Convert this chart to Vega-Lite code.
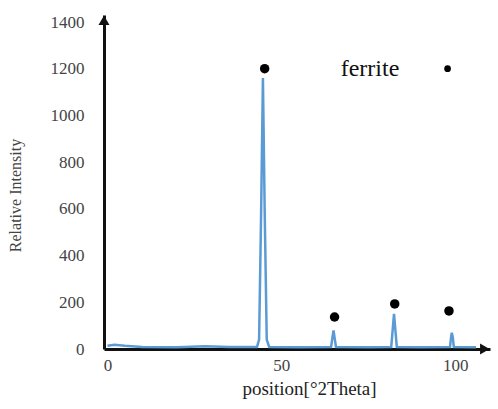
{
  "$schema": "https://vega.github.io/schema/vega-lite/v6.json",
  "autosize": "none",
  "width": 386,
  "height": 334,
  "padding": {"left": 104, "top": 15, "right": 8, "bottom": 60},
  "background": "white",
  "config": {
    "view": {"stroke": null},
    "font": "Liberation Serif"
  },
  "datasets": {
    "spectrum": [
      {"pos": 0, "intensity": 14}, {"pos": 2, "intensity": 18}, {"pos": 5, "intensity": 14},
      {"pos": 10, "intensity": 9}, {"pos": 20, "intensity": 8}, {"pos": 28, "intensity": 12},
      {"pos": 35, "intensity": 9}, {"pos": 43, "intensity": 9}, {"pos": 43.6, "intensity": 40},
      {"pos": 44.2, "intensity": 600}, {"pos": 44.7, "intensity": 1160}, {"pos": 45.2, "intensity": 600},
      {"pos": 45.8, "intensity": 40}, {"pos": 46.5, "intensity": 9}, {"pos": 55, "intensity": 8},
      {"pos": 64.3, "intensity": 9}, {"pos": 64.7, "intensity": 50}, {"pos": 65.0, "intensity": 80},
      {"pos": 65.3, "intensity": 50}, {"pos": 65.7, "intensity": 9}, {"pos": 75, "intensity": 8},
      {"pos": 81.6, "intensity": 9}, {"pos": 82.0, "intensity": 80}, {"pos": 82.4, "intensity": 150},
      {"pos": 82.8, "intensity": 80}, {"pos": 83.2, "intensity": 9}, {"pos": 90, "intensity": 8},
      {"pos": 98.5, "intensity": 9}, {"pos": 98.8, "intensity": 50}, {"pos": 99.0, "intensity": 70},
      {"pos": 99.3, "intensity": 50}, {"pos": 99.6, "intensity": 9}, {"pos": 106, "intensity": 8}
    ],
    "markers": [
      {"pos": 45.2, "intensity": 1200},
      {"pos": 65.3, "intensity": 137},
      {"pos": 82.6, "intensity": 193},
      {"pos": 98.2, "intensity": 163}
    ],
    "arrows": [
      {"pos": -1, "intensity": 1408, "shape": "triangle-up"},
      {"pos": 108.5, "intensity": 0, "shape": "triangle-right"}
    ],
    "legend": [
      {"pos": 75.5, "intensity": 1200, "label": "ferrite"}
    ],
    "legendDot": [
      {"pos": 97.8, "intensity": 1200}
    ]
  },
  "layer": [
    {
      "data": {"name": "spectrum"},
      "mark": {"type": "line", "color": "#5b9bd5", "strokeWidth": 2.5, "clip": true},
      "encoding": {
        "x": {
          "field": "pos", "type": "quantitative",
          "scale": {"domain": [-1, 110], "nice": false, "zero": false},
          "axis": {
            "values": [0, 50, 100],
            "format": "d",
            "title": "position[°2Theta]",
            "titleFont": "Liberation Serif", "titleFontSize": 19, "titleFontWeight": "normal",
            "titleColor": "#222", "titlePadding": 6, "titleX": 205,
            "labelFont": "Liberation Serif", "labelFontSize": 17, "labelColor": "#444",
            "labelPadding": 8,
            "grid": false, "ticks": false,
            "domainColor": "#111", "domainWidth": 3
          }
        },
        "y": {
          "field": "intensity", "type": "quantitative",
          "scale": {"domain": [0, 1430], "nice": false},
          "axis": {
            "values": [0, 200, 400, 600, 800, 1000, 1200, 1400],
            "format": "d",
            "title": "Relative Intensity",
            "titleFont": "Liberation Serif", "titleFontSize": 16, "titleFontWeight": "normal",
            "titleColor": "#444", "titleX": -81, "titleY": 180,
            "labelFont": "Liberation Serif", "labelFontSize": 17, "labelColor": "#444",
            "labelPadding": 20,
            "grid": false, "ticks": false,
            "domainColor": "#111", "domainWidth": 3
          }
        }
      }
    },
    {
      "data": {"name": "markers"},
      "mark": {"type": "point", "filled": true, "color": "#000", "size": 90, "opacity": 1},
      "encoding": {
        "x": {"field": "pos", "type": "quantitative"},
        "y": {"field": "intensity", "type": "quantitative"}
      }
    },
    {
      "data": {"name": "arrows"},
      "mark": {"type": "point", "filled": true, "color": "#111", "size": 120, "opacity": 1, "clip": false},
      "encoding": {
        "x": {"field": "pos", "type": "quantitative"},
        "y": {"field": "intensity", "type": "quantitative"},
        "shape": {"field": "shape", "type": "nominal", "scale": null}
      }
    },
    {
      "data": {"name": "legend"},
      "mark": {"type": "text", "font": "Liberation Serif", "fontSize": 24, "color": "#111", "align": "center", "baseline": "middle"},
      "encoding": {
        "x": {"field": "pos", "type": "quantitative"},
        "y": {"field": "intensity", "type": "quantitative"},
        "text": {"field": "label"}
      }
    },
    {
      "data": {"name": "legendDot"},
      "mark": {"type": "point", "filled": true, "color": "#000", "size": 45, "opacity": 1},
      "encoding": {
        "x": {"field": "pos", "type": "quantitative"},
        "y": {"field": "intensity", "type": "quantitative"}
      }
    }
  ]
}
